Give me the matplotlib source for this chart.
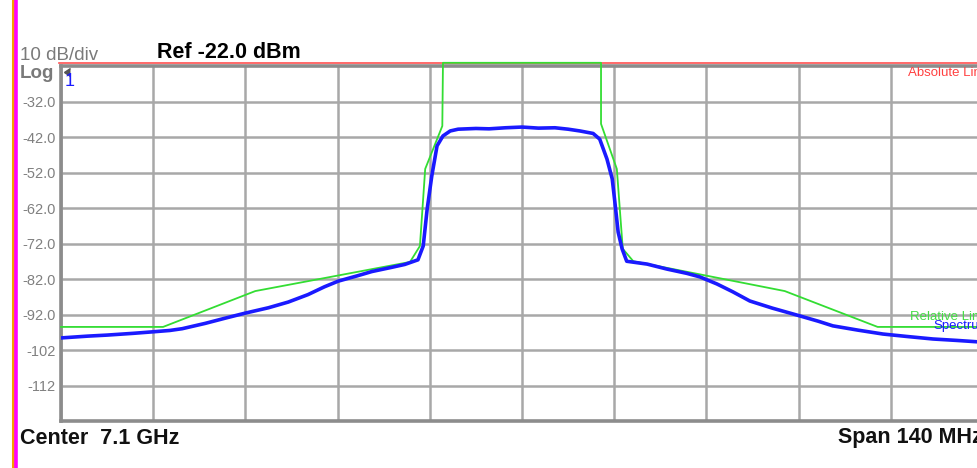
import numpy as np
import matplotlib.pyplot as plt

plt.rcParams['font.family'] = ['Liberation Sans', 'DejaVu Sans']

# offset from center frequency (MHz) and level (dBm)
spec_f = [-70.0, -66.0, -63.0, -59.0, -56.2, -53.5, -51.6, -48.1, -45.0, -42.0,
          -38.5, -35.5, -32.5, -30.0, -27.9, -25.0, -22.8, -20.0, -17.8, -15.8,
          -15.0, -14.4, -13.7, -12.9, -12.0, -10.9, -9.7, -7.0, -5.0, -2.5,
          0.0, 2.5, 5.0, 7.0, 8.8, 10.8, 11.8, 12.9, 13.7, 14.1,
          14.6, 15.2, 15.9, 19.0, 22.0, 25.0, 27.0, 29.6, 32.0, 34.6,
          38.0, 42.2, 45.0, 47.2, 51.0, 54.8, 58.5, 62.4, 66.0, 70.0]
spec_db = [-98.6, -98.1, -97.8, -97.3, -96.9, -96.5, -96.0, -94.5, -93.0, -91.6,
           -90.1, -88.5, -86.4, -84.2, -82.6, -81.1, -79.9, -78.8, -77.9, -76.6,
           -72.7, -62.3, -53.0, -44.5, -41.7, -40.3, -39.8, -39.6, -39.7, -39.4,
           -39.2, -39.5, -39.4, -39.8, -40.3, -41.0, -42.6, -48.2, -53.8, -60.3,
           -68.8, -73.5, -77.0, -77.8, -79.2, -80.4, -81.4, -83.4, -85.6, -88.2,
           -90.2, -92.4, -93.9, -95.2, -96.4, -97.5, -98.2, -98.9, -99.3, -99.8]

# relative limit mask
mask_f = [-70.0, -54.5, -40.5, -17.0, -15.5, -14.7, -12.1, -12.0, 12.0, 12.0,
          14.4, 15.3, 16.9, 39.9, 54.0, 70.0]
mask_db = [-95.5, -95.5, -85.4, -77.2, -72.7, -51.0, -38.9, -21.1, -21.1, -38.3,
           -51.0, -73.5, -77.0, -85.4, -95.5, -95.5]

abs_limit = -21.1
ref_level = -22.0
y_ticks = [-32, -42, -52, -62, -72, -82, -92, -102, -112]
y_labels = ['-32.0', '-42.0', '-52.0', '-62.0', '-72.0', '-82.0', '-92.0', '-102', '-112']
x_ticks = np.arange(-70, 71, 14)

fig = plt.figure(figsize=(9.78, 4.68), dpi=100)
ax = fig.add_axes([61 / 978, 47 / 468, 922 / 978, 355 / 468])

ax.set_xlim(-70, 70)
ax.set_ylim(-122, ref_level)
ax.set_xticks(x_ticks)
ax.set_yticks(y_ticks)
ax.set_yticklabels(y_labels)
ax.tick_params(axis='x', length=0, labelbottom=False)
ax.tick_params(axis='y', length=0, pad=4, labelsize=10.5, labelcolor='#808080')
ax.grid(True, color='#a8a8a8', lw=1.8)
ax.set_axisbelow(True)
for s in ['left', 'bottom', 'top']:
    ax.spines[s].set_color('#8c8c8c')
    ax.spines[s].set_linewidth(2.6)
ax.spines['right'].set_visible(False)

ax.axhline(abs_limit, xmin=-0.002, color='#ff5050', lw=1.2, clip_on=False, zorder=3)
ax.plot(mask_f, mask_db, color='#33dd33', lw=1.3, clip_on=False, zorder=4)
ax.plot(spec_f, spec_db, color='#1a1aff', lw=2.6, zorder=5)

# marker 1
ax.plot([-69.6], [-23.6], marker=4, color='#555555', ms=6, clip_on=False, zorder=6)
fig.text(65 / 978, 1 - 81 / 468, '1', color='#1a1aff', fontsize=13, va='center')

fig.text(20 / 978, 1 - 56 / 468, '10 dB/div', color='#7a7a7a', fontsize=13.5, va='center')
fig.text(20 / 978, 1 - 74 / 468, 'Log', color='#7a7a7a', fontsize=13.5,
         fontweight='bold', va='center')
fig.text(157 / 978, 1 - 53 / 468, 'Ref -22.0 dBm', color='black', fontsize=15.5,
         fontweight='bold', va='center')
fig.text(20 / 978, 1 - 438 / 468, 'Center  7.1 GHz', color='#111111', fontsize=15.5,
         fontweight='bold', va='center')
fig.text(838 / 978, 1 - 438 / 468, 'Span 140 MHz', color='#111111', fontsize=15.5,
         fontweight='bold', va='center')
fig.text(908 / 978, 1 - 73 / 468, 'Absolute Limit', color='#ff4040', fontsize=9.5, va='center')
fig.text(910 / 978, 1 - 317 / 468, 'Relative Limit', color='#44dd44', fontsize=9.5, va='center')
fig.text(933 / 978, 1 - 326 / 468, 'Spectrum', color='#1a1aff', fontsize=9.5, va='center')

# left edge strips
fig.add_artist(plt.Line2D([13.5 / 978, 13.5 / 978], [0, 1], color='#f5a000', lw=2.2))
fig.add_artist(plt.Line2D([16.5 / 978, 16.5 / 978], [0, 1], color='#ff00ff', lw=2.6))

fig.savefig('out.png', dpi=100)
